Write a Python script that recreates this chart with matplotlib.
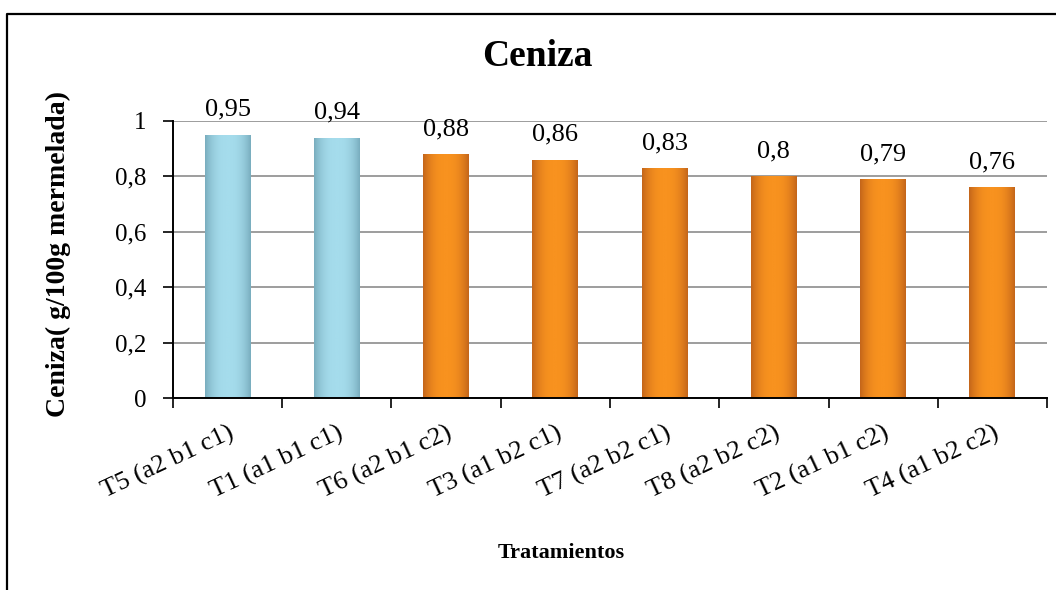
import numpy as np
import matplotlib.pyplot as plt
from matplotlib.lines import Line2D
from matplotlib.colors import LinearSegmentedColormap

plt.rcParams['font.family'] = ['Liberation Serif', 'DejaVu Serif']

tratamientos = ['T5 (a2 b1 c1)', 'T1 (a1 b1 c1)', 'T6 (a2 b1 c2)', 'T3 (a1 b2 c1)',
                'T7 (a2 b2 c1)', 'T8 (a2 b2 c2)', 'T2 (a1 b1 c2)', 'T4 (a1 b2 c2)']
ceniza = [0.95, 0.94, 0.88, 0.86, 0.83, 0.80, 0.79, 0.76]
etiquetas = ['0,95', '0,94', '0,88', '0,86', '0,83', '0,8', '0,79', '0,76']
grupo = ['azul', 'azul', 'naranja', 'naranja', 'naranja', 'naranja', 'naranja', 'naranja']

# borde, centro de cada barra (degradado horizontal)
colores = {'azul': ('#7aaebf', '#a5dcec'), 'naranja': ('#c4661a', '#f8921f')}

fig = plt.figure(figsize=(10.56, 5.9), dpi=100)
ax = fig.add_axes([0.1638, 0.3254, 0.8277, 0.4696])

x = list(range(len(tratamientos)))
grad = np.abs(np.linspace(-1, 1, 64)) ** 2.5
grad = np.vstack([grad, grad])
for i, v in enumerate(ceniza):
    borde, centro = colores[grupo[i]]
    cmap = LinearSegmentedColormap.from_list('g', [centro, borde])
    b = ax.bar(i, v, width=0.42, color=centro, edgecolor='none', zorder=3)[0]
    img = ax.imshow(grad, cmap=cmap, aspect='auto', zorder=3.5,
                    extent=[b.get_x(), b.get_x() + b.get_width(), 0, b.get_height()])
    img.set_clip_path(b)
    ax.annotate(etiquetas[i], (i, v), xytext=(0, 10), textcoords='offset points',
                ha='center', va='bottom', fontsize=19)

ax.set_xlim(-0.5, len(tratamientos) - 0.5)
ax.set_ylim(0, 1)
ax.set_yticks([0, 0.2, 0.4, 0.6, 0.8, 1])
ax.set_yticklabels(['0', '0,2', '0,4', '0,6', '0,8', '1'], fontsize=18)
ax.yaxis.grid(True, color='#8c8c8c', linewidth=1.2, zorder=0)
ax.set_axisbelow(True)

# ticks at category boundaries, labels under the bars
ax.set_xticks([i - 0.5 for i in range(len(tratamientos) + 1)])
ax.set_xticklabels([])
ax.set_xticks(x, minor=True)
ax.set_xticklabels(tratamientos, minor=True, rotation=25, ha='right',
                   rotation_mode='anchor', fontsize=19)
ax.tick_params(axis='x', which='minor', length=0, pad=17)
ax.tick_params(axis='x', which='major', length=7, width=1.2, direction='out')
ax.tick_params(axis='y', length=7, width=1.2, direction='out', pad=12)
for s in ['top', 'right']:
    ax.spines[s].set_visible(False)
for s in ['left', 'bottom']:
    ax.spines[s].set_linewidth(1.4)
    ax.spines[s].set_zorder(5)

ax.set_ylabel('Ceniza( g/100g mermelada)', fontsize=20, fontweight='bold', va='center')
ax.yaxis.set_label_coords(-0.1316, 0.52)

fig.text(537 / 1056, 1 - 57 / 590, 'Ceniza', ha='center', va='center',
         fontsize=27, fontweight='bold')
fig.text(561 / 1056, 1 - 553 / 590, 'Tratamientos', ha='center', va='center',
         fontsize=16, fontweight='bold')

# marco exterior (solo izquierda y arriba visibles)
xl, yt = 7 / 1056, 1 - 14 / 590
fig.add_artist(Line2D([xl, xl, 1], [0, yt, yt], color='black', linewidth=1.6,
                      transform=fig.transFigure))

fig.savefig('out.png', dpi=100)
